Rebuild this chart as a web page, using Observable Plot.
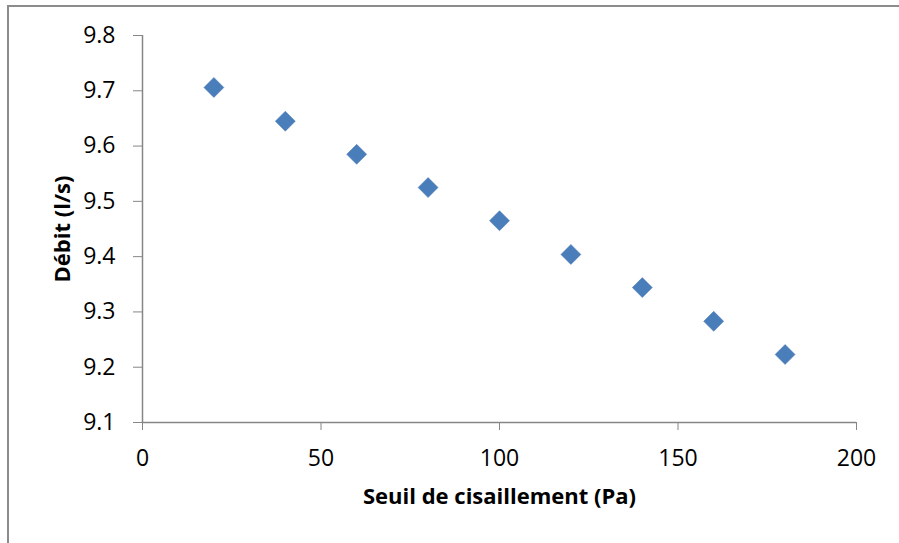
<!DOCTYPE html>
<html>
<head>
<meta charset="utf-8">
<script src="https://cdn.jsdelivr.net/npm/d3@7"></script>
<script src="https://cdn.jsdelivr.net/npm/@observablehq/plot@0.6"></script>
<style>
  html, body { margin: 0; padding: 0; background: #fff; }
  #wrap { position: relative; width: 899px; height: 543px; overflow: hidden; }
  #wrap svg { display: block; }
  #border { position: absolute; left: 7px; top: 5px; width: 900px; height: 600px;
            border-left: 2px solid #8c8c8c; border-top: 2px solid #8c8c8c; pointer-events: none; }
</style>
</head>
<body>
<div id="wrap"><div id="border"></div></div>
<script>
const seuil = [20, 40, 60, 80, 100, 120, 140, 160, 180];
const debit = [9.706, 9.645, 9.585, 9.525, 9.465, 9.404, 9.344, 9.283, 9.223];
const xTicks = [0, 50, 100, 150, 200];
const yTicks = [9.1, 9.2, 9.3, 9.4, 9.5, 9.6, 9.7, 9.8];
const xTitle = "Seuil de cisaillement (Pa)";
const yTitle = "Débit (l/s)";

const data = seuil.map((s, i) => ({x: s, y: debit[i]}));
const axisColor = "#868686";
const font = "'Open Sans', 'Liberation Sans', sans-serif";

const chart = Plot.plot({
  width: 899,
  height: 543,
  marginLeft: 142,
  marginRight: 43,
  marginTop: 35,
  marginBottom: 121,
  style: {fontFamily: font, fontSize: "23px", color: "#000", background: "transparent", overflow: "visible"},
  x: {domain: [0, 200]},
  y: {domain: [9.1, 9.8]},
  marks: [
    Plot.axisX({ticks: xTicks, tickSize: 8, tickPadding: 19, stroke: axisColor, fill: "#000", fontSize: 23, label: null, tickFormat: d => d}),
    Plot.axisY({ticks: yTicks, tickSize: 9, tickPadding: 18, stroke: axisColor, fill: "#000", fontSize: 23, label: null, tickFormat: d => d.toFixed(1)}),
    Plot.ruleY([9.1], {stroke: axisColor, strokeWidth: 1.5}),
    Plot.ruleX([0], {y1: 9.1, y2: 9.8, stroke: axisColor, strokeWidth: 1.5}),
    Plot.dot(data, {x: "x", y: "y", symbol: "diamond2", r: 9, fill: "#4A7EBB", stroke: "#4677B4", strokeWidth: 0.5}),
    Plot.text([xTitle], {frameAnchor: "bottom", dy: 74, fontWeight: "bold", fontSize: 22, fill: "#000", textAnchor: "middle", lineAnchor: "middle"}),
    Plot.text([yTitle], {frameAnchor: "left", dx: -80, rotate: -90, fontWeight: "bold", fontSize: 22, fill: "#000", textAnchor: "middle", lineAnchor: "middle"})
  ]
});
document.getElementById("wrap").prepend(chart);
</script>
</body>
</html>
